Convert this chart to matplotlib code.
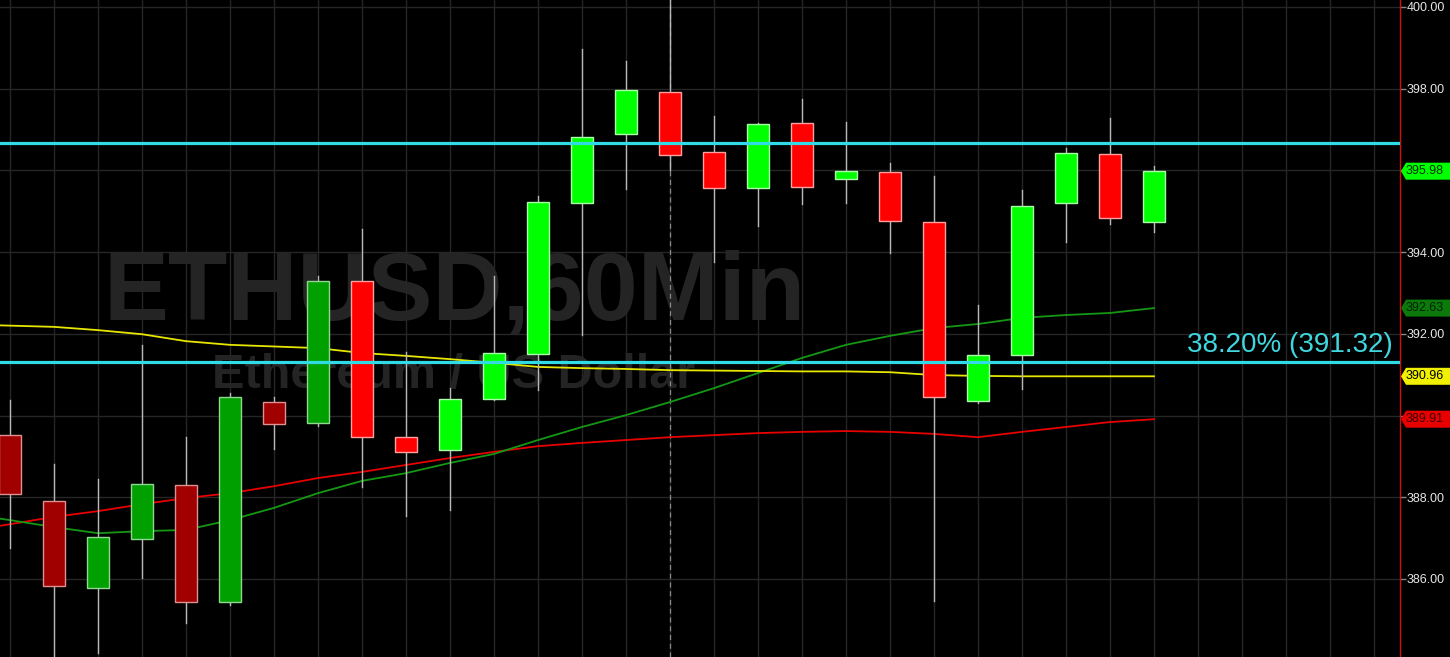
import matplotlib
matplotlib.use('Agg')
import matplotlib.pyplot as plt
import matplotlib.transforms as mtransforms
from matplotlib.patches import Polygon, Rectangle

# --- hourly ETHUSD candles ---
opens = [389.52, 387.91, 385.78, 386.98, 388.30, 385.43, 390.33, 389.82, 393.29,
         389.47, 389.16, 390.40, 391.51, 395.20, 396.89, 397.92, 396.45, 395.57,
         397.16, 395.79, 395.96, 394.74, 390.35, 391.48, 395.20, 396.40, 394.74]
highs = [390.38, 388.81, 388.45, 391.73, 389.47, 390.55, 390.45, 393.42, 394.57,
         391.55, 390.67, 393.42, 395.37, 398.97, 398.68, 400.60, 397.33, 397.16,
         397.75, 397.18, 396.18, 395.86, 392.70, 395.52, 396.55, 397.28, 396.11]
lows = [386.76, 384.00, 384.19, 386.02, 384.92, 385.36, 389.18, 389.75, 388.25,
        387.54, 387.69, 390.38, 390.62, 391.97, 395.54, 396.01, 393.76, 394.64,
        395.18, 395.20, 393.98, 385.46, 390.30, 390.65, 394.25, 394.69, 394.49]
closes = [388.08, 385.83, 387.03, 388.32, 385.43, 390.45, 389.79, 393.29, 389.47,
          389.11, 390.40, 391.53, 395.23, 396.82, 397.97, 396.38, 395.57, 397.14,
          395.59, 395.99, 394.76, 390.45, 391.48, 395.13, 396.43, 394.83, 395.98]
dark_bars = 8          # first bars drawn in the darker session colours
day_break = 15         # dashed separator

# moving averages, starting one bar before the first visible candle
ma_yellow = [392.23, 392.20, 392.17, 392.09, 391.99, 391.82, 391.73, 391.69, 391.65,
             391.53, 391.46, 391.38, 391.29, 391.19, 391.16, 391.14, 391.11, 391.10,
             391.09, 391.08, 391.08, 391.06, 390.99, 390.97, 390.96, 390.96, 390.96,
             390.96]
ma_green = [387.60, 387.44, 387.27, 387.12, 387.17, 387.20, 387.44, 387.74, 388.10,
            388.40, 388.59, 388.84, 389.06, 389.40, 389.72, 390.01, 390.33, 390.67,
            391.04, 391.41, 391.73, 391.95, 392.14, 392.24, 392.39, 392.46, 392.51,
            392.63]
ma_red = [387.17, 387.34, 387.52, 387.66, 387.83, 387.98, 388.10, 388.27, 388.47,
          388.62, 388.79, 388.96, 389.11, 389.25, 389.33, 389.40, 389.47, 389.52,
          389.57, 389.60, 389.62, 389.60, 389.55, 389.47, 389.60, 389.72, 389.84,
          389.91]

fib_levels = [396.67, 391.32]
fib_label = "38.20% (391.32)"
tick_values = [386, 388, 390, 392, 394, 396, 398, 400]

fig = plt.figure(figsize=(14.5, 6.57), dpi=100, facecolor='black')
ax = fig.add_axes([0, 0, 1400 / 1450, 1])
ax.set_facecolor('black')
ax.set_xlim(-10 / 44, 1390 / 44)
ax.set_ylim(384.09, 400.17)

# grid
for v in tick_values:
    ax.axhline(v, color='#262626', lw=1, zorder=1)
for i in range(32):
    ax.axvline(i, color='#262626', lw=1, zorder=1)
ax.axvline(day_break, color='#8a8a8a', lw=0.9, ls=(0, (4, 3)), zorder=1.5)

# watermark
ax.text(0.325, 0.513, "ETHUSD,60Min", transform=ax.transAxes, ha='center',
        va='baseline', fontsize=70, fontweight='bold', color='#242424',
        family='Liberation Sans', zorder=0.5)
ax.text(0.324, 0.409, "Ethereum / US Dollar", transform=ax.transAxes, ha='center',
        va='baseline', fontsize=35, fontweight='bold', color='#242424',
        family='Liberation Sans', zorder=0.5)

# moving averages
xs_ma = list(range(-1, len(closes)))
ax.plot(xs_ma, ma_red, color='#e80000', lw=1.3, zorder=3)
ax.plot(xs_ma, ma_green, color='#149814', lw=1.3, zorder=3)
ax.plot(xs_ma, ma_yellow, color='#e6e600', lw=1.3, zorder=3)

# candles
w = 0.48
for i, (o, h, l, c) in enumerate(zip(opens, highs, lows, closes)):
    up = c >= o
    if i < dark_bars:
        face = '#00a000' if up else '#a00000'
        edge = '#8fd88f' if up else '#e09090'
    else:
        face = '#00ff00' if up else '#ff0000'
        edge = '#a8ffa8' if up else '#ffa0a0'
    ax.plot([i, i], [l, h], color='#b8b8b8', lw=1, zorder=4)
    lo, hi = min(o, c), max(o, c)
    ax.add_patch(Rectangle((i - w / 2, lo), w, max(hi - lo, 0.04), facecolor=face,
                           edgecolor=edge, lw=1, zorder=5))

# fibonacci lines
for lv in fib_levels:
    ax.axhline(lv, color='#30dbe6', lw=2.3, zorder=6)
ax.text(1393 / 1400, 391.55, fib_label, transform=mtransforms.blended_transform_factory(
    ax.transAxes, ax.transData), ha='right', va='baseline', fontsize=20,
    color='#3fd6df', family='Liberation Sans', zorder=7)

# right axis
for s in ['left', 'top', 'bottom']:
    ax.spines[s].set_visible(False)
ax.spines['right'].set_color('#d01010')
ax.spines['right'].set_linewidth(1)
ax.set_xticks([])
ax.yaxis.tick_right()
ax.set_yticks(tick_values)
ax.set_yticklabels([f"{v:.2f}" for v in tick_values], family='Liberation Sans')
ax.tick_params(axis='y', colors='#888888', labelcolor='#e6e6e6', length=4,
               width=1, pad=1, labelsize=9)

# last-value tags
trans = mtransforms.blended_transform_factory(ax.transAxes, ax.transData)
px = 1 / 1400
hh = 8.5 / 40.85
tags = [(395.98, '#00ff00', '#003000'), (392.63, '#0b7a0b', '#002200'),
        (390.96, '#f0f000', '#000000'), (389.91, '#e80000', '#3a0000')]
for val, bg, fg in tags:
    poly = Polygon([(1 + px, val), (1 + 6 * px, val + hh), (1 + 50 * px, val + hh),
                    (1 + 50 * px, val - hh), (1 + 6 * px, val - hh)], closed=True,
                   transform=trans, facecolor=bg, edgecolor='none', clip_on=False,
                   zorder=10)
    ax.add_patch(poly)
    ax.text(1 + 6 * px, val, f"{val:.2f}", transform=trans, ha='left', va='center',
            fontsize=9, color=fg, zorder=11, clip_on=False, family='Liberation Sans')

fig.savefig('out.png', dpi=100, facecolor='black')
